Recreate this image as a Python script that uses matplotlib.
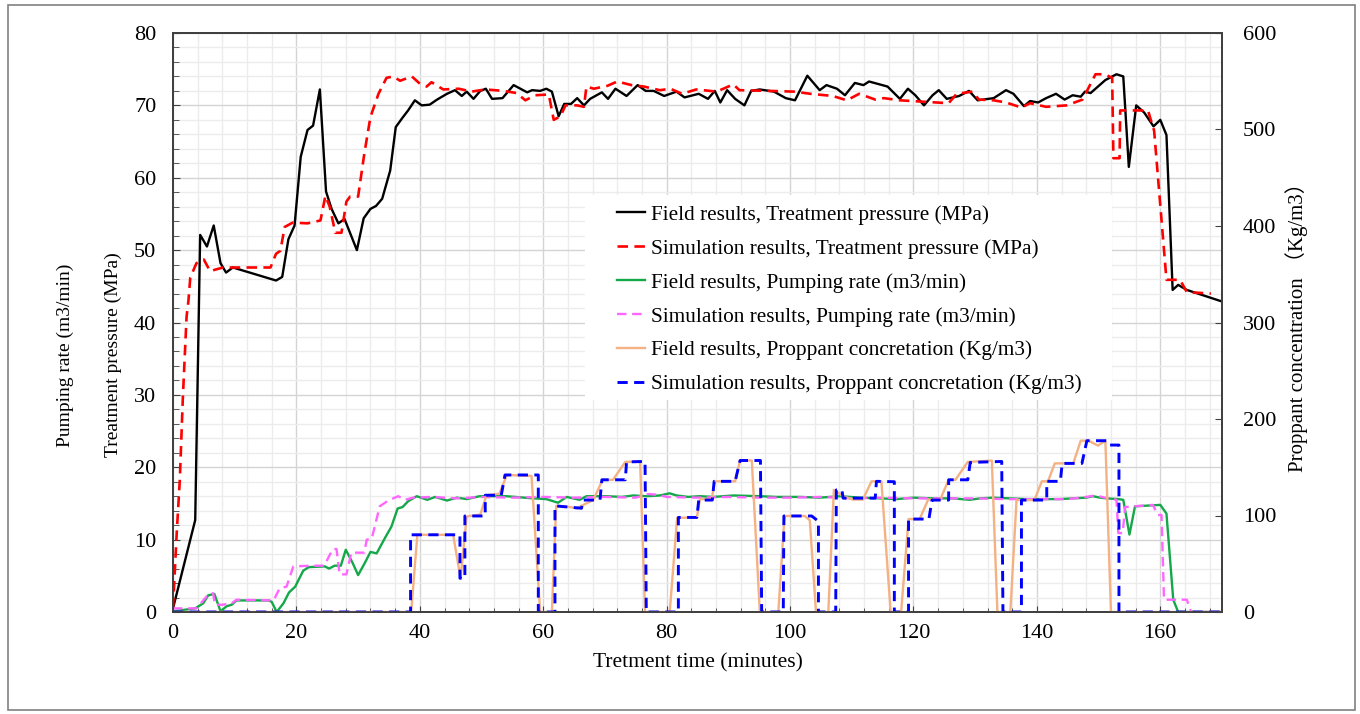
import matplotlib
matplotlib.use("Agg")
import matplotlib.pyplot as plt
from matplotlib.patches import Rectangle
from matplotlib.ticker import MultipleLocator

plt.rcParams['font.family'] = ['Liberation Serif', 'Noto Sans CJK SC']

# treatment pressure, field (MPa)
t_press_field = [0, 3.6, 4.4, 5.5, 6.6, 7.7, 8.6, 9.7, 16.7, 17.7,
                 18.7, 19.7, 20.7, 21.8, 22.7, 23.8, 24.8, 25.7, 26.8, 27.8,
                 29.8, 30.9, 32.0, 32.9, 33.9, 35.2, 36.1, 37.2, 38.1, 39.2,
                 40.3, 41.6, 42.8, 44.4, 45.7, 46.8, 47.6, 48.7, 49.8, 50.7,
                 51.7, 53.4, 55.2, 57.4, 58.2, 59.5, 60.5, 61.4, 62.5, 63.4,
                 64.5, 65.5, 66.6, 67.6, 69.5, 70.5, 71.7, 73.5, 75.3, 76.6,
                 77.9, 79.6, 81.6, 82.9, 85.2, 86.7, 87.8, 88.7, 89.8, 91.1,
                 92.6, 93.7, 95.1, 97.4, 99.3, 100.8, 102.8, 104.8, 105.9, 107.6,
                 108.9, 110.5, 111.9, 112.8, 115.8, 117.8, 119.1, 120.3, 121.7, 123.1,
                 124.1, 125.4, 127.4, 129.0, 130.4, 133.0, 135.0, 136.2, 137.9, 138.9,
                 140.2, 141.5, 143.1, 144.5, 145.8, 147.1, 147.8, 148.7, 151.1, 152.9,
                 154.0, 154.9, 156.1, 157.4, 158.9, 160.0, 161.0, 162.0, 162.9, 164.3,
                 170]
press_field = [0.5, 12.7, 52.1, 50.5, 53.4, 48.2, 46.9, 47.6, 45.8, 46.3,
               51.5, 53.4, 62.9, 66.6, 67.2, 72.2, 58.1, 55.7, 53.7, 54.3,
               50.0, 54.4, 55.7, 56.1, 57.1, 61.0, 67.0, 68.3, 69.3, 70.7,
               70.0, 70.1, 70.8, 71.6, 72.1, 71.3, 71.9, 70.9, 72.0, 72.3,
               70.9, 71.0, 72.8, 71.8, 72.1, 72.0, 72.3, 71.9, 68.5, 70.2,
               70.2, 71.0, 70.0, 70.9, 71.8, 70.9, 72.3, 71.3, 72.8, 72.0,
               72.0, 71.3, 71.9, 71.1, 71.6, 70.9, 72.0, 70.4, 72.1, 70.9,
               70.0, 72.0, 72.2, 71.9, 71.0, 70.7, 74.1, 72.1, 72.8, 72.3,
               71.4, 73.1, 72.8, 73.3, 72.6, 70.9, 72.3, 71.4, 70.0, 71.4,
               72.1, 70.9, 71.3, 72.0, 70.7, 71.0, 72.1, 71.6, 69.9, 70.6,
               70.4, 71.0, 71.6, 70.8, 71.4, 71.2, 71.9, 71.7, 73.5, 74.3,
               74.0, 61.5, 70.0, 69.0, 67.1, 68.0, 65.9, 44.5, 45.2, 44.5,
               42.9]

# treatment pressure, simulation (MPa)
t_press_sim = [0, 0.6, 1.1, 1.6, 2.2, 2.5, 2.8, 3.8, 5.0, 6.0,
               8.1, 15.8, 16.7, 17.4, 18.1, 19.4, 21.8, 23.9, 24.7, 25.4,
               26.3, 27.3, 28.1, 28.7, 30.0, 31.0, 32.0, 33.3, 34.6, 35.7,
               36.8, 38.7, 40.0, 41.1, 41.9, 43.8, 46.3, 48.4, 50.6, 53.6,
               55.7, 57.1, 58.7, 60.9, 61.7, 62.8, 63.6, 65.5, 66.6, 67.0,
               68.2, 70.4, 72.0, 74.3, 76.3, 78.9, 80.6, 82.5, 84.8, 88.1,
               90.8, 91.8, 96.7, 100.7, 103.3, 106.9, 109.2, 111.2, 113.8, 115.2,
               117.8, 121.7, 125.7, 127.0, 129.6, 130.6, 133.0, 135.0, 137.5, 138.9,
               141.5, 144.8, 147.4, 149.5, 151.0, 152.2, 152.4, 153.4, 153.5, 158.0,
               159.0, 161.0, 163.2, 164.3, 168.2]
press_sim = [0.5, 10.9, 18.2, 29.7, 40.8, 43.0, 46.2, 48.2, 48.7, 47.1,
             47.6, 47.6, 49.5, 49.9, 53.2, 53.8, 53.7, 54.1, 57.5, 56.0,
             52.4, 52.4, 56.7, 57.4, 57.4, 63.3, 68.4, 71.6, 73.8, 74.0,
             73.4, 74.0, 73.0, 72.6, 73.2, 72.2, 72.3, 71.9, 72.2, 72.0,
             71.7, 70.7, 71.4, 71.5, 68.0, 68.5, 70.0, 70.0, 69.8, 72.6,
             72.3, 72.7, 73.3, 72.8, 72.6, 72.1, 72.3, 71.6, 72.2, 71.9,
             72.9, 72.1, 72.0, 71.9, 71.6, 71.3, 70.7, 71.6, 70.8, 71.0,
             70.7, 70.5, 70.3, 71.6, 71.9, 70.8, 70.7, 70.4, 69.7, 70.3,
             69.8, 70.0, 70.8, 74.3, 74.3, 73.8, 62.7, 62.7, 69.3, 69.3,
             66.5, 45.9, 45.9, 44.2, 44.0]

# pumping rate, field (m3/min)
t_rate_field = [0, 3.6, 4.9, 5.7, 6.7, 7.7, 8.7, 9.5, 10.3, 15.5,
                16.0, 16.8, 17.9, 18.8, 19.8, 21.1, 22.0, 24.6, 25.3, 26.2,
                27.2, 28.0, 29.1, 30.0, 31.1, 32.0, 33.0, 34.4, 35.4, 36.4,
                37.2, 38.1, 39.5, 41.2, 42.5, 44.4, 46.0, 47.6, 49.7, 54.0,
                58.4, 60.5, 62.4, 63.8, 65.9, 67.0, 70.3, 72.7, 74.6, 76.7,
                78.9, 80.5, 81.6, 83.5, 85.4, 87.6, 90.8, 95.1, 97.8, 101.6,
                104.8, 108.1, 111.3, 114.6, 117.3, 120.0, 123.2, 126.4, 129.1, 130.8,
                132.9, 138.3, 143.7, 148.0, 149.1, 150.2, 151.3, 153.2, 154.0, 155.0,
                155.9, 160.0, 161.0, 162.1, 162.9, 170]
rate_field = [0.1, 0.5, 1.2, 2.3, 2.5, 0.1, 0.8, 1.0, 1.6, 1.6,
              1.4, 0.0, 1.2, 2.7, 3.5, 5.7, 6.2, 6.3, 6.0, 6.4,
              6.4, 8.6, 6.8, 5.1, 6.8, 8.3, 8.1, 10.3, 11.8, 14.3,
              14.5, 15.3, 16.0, 15.5, 15.9, 15.4, 15.8, 15.6, 16.0, 16.0,
              15.7, 15.6, 15.1, 15.9, 15.5, 16.0, 16.0, 15.9, 16.1, 16.0,
              16.1, 16.4, 16.1, 15.9, 16.0, 15.9, 16.1, 16.0, 15.9, 15.9,
              15.8, 16.0, 15.8, 15.7, 15.6, 15.8, 15.7, 15.7, 15.5, 15.7,
              15.8, 15.6, 15.6, 15.8, 16.0, 15.8, 15.7, 15.6, 15.5, 10.7,
              14.6, 14.8, 13.6, 1.7, 0.0, 0.0]

# pumping rate, simulation (m3/min)
t_rate_sim = [0, 3.8, 5.7, 6.5, 6.8, 8.0, 9.5, 10.3, 16.3, 17.3,
              18.4, 19.5, 22.5, 24.5, 25.9, 26.5, 27.0, 28.1, 28.9, 31.0,
              31.4, 32.2, 33.5, 34.9, 36.5, 37.6, 38.9, 42.0, 46.0, 50.0,
              55.0, 60.0, 65.0, 70.0, 75.0, 77.0, 78.5, 80.0, 85.0, 90.0,
              95.0, 100.0, 105.0, 110.0, 115.0, 120.0, 125.0, 130.0, 135.0, 140.0,
              145.0, 148.0, 149.5, 151.0, 152.9, 153.2, 153.9, 154.3, 158.8, 159.6,
              160.2, 160.6, 164.3, 165.0, 170]
rate_sim = [0.5, 0.5, 2.4, 2.6, 1.0, 1.0, 1.2, 1.7, 1.6, 3.3,
            3.5, 6.3, 6.4, 6.4, 8.7, 8.7, 5.2, 5.2, 8.2, 8.2,
            10.0, 10.1, 14.6, 15.4, 16.0, 15.5, 15.8, 15.9, 15.7, 15.9,
            15.8, 15.9, 15.8, 15.9, 15.8, 16.3, 16.2, 15.9, 15.8, 15.9,
            15.8, 15.8, 15.9, 15.7, 15.8, 15.7, 15.7, 15.7, 15.6, 15.6,
            15.6, 15.9, 16.1, 15.8, 15.5, 10.9, 10.9, 14.5, 14.8, 13.4,
            13.4, 1.7, 1.7, 0.0, 0.0]

# proppant concentration, field (Kg/m3)
t_prop_field = [0, 38.6, 39.6, 45.4, 46.6, 47.6, 49.8, 50.8, 52.9, 54.1,
                58.1, 59.5, 61.4, 62.1, 64.1, 65.4, 68.1, 69.6, 71.3, 73.3,
                75.7, 76.5, 80.5, 81.7, 84.9, 85.4, 87.3, 87.8, 91.1, 91.9,
                93.8, 95.1, 98.1, 99.1, 102.4, 103.2, 104.2, 106.2, 107.1, 108.6,
                110.2, 111.8, 113.2, 114.8, 116.3, 118.0, 119.2, 121.0, 122.4, 124.3,
                125.7, 126.8, 128.8, 132.7, 133.6, 135.7, 136.7, 139.6, 140.8, 141.8,
                142.9, 145.9, 147.1, 148.4, 149.9, 151.1, 152.0, 170]
prop_field = [0, 0, 80, 80, 35, 99, 101, 121, 122.6, 142,
              141, 0, 0, 110, 109, 107.5, 116, 136.8, 137, 155.5,
              156, 0, 0, 97.6, 98, 117, 117, 135.4, 135.4, 157,
              157, 0, 0, 99.5, 99.5, 95, 0, 0, 126.5, 120,
              116.5, 116.5, 135.4, 135.4, 0, 0, 96.3, 96.3, 116.7, 116,
              137, 137, 155.5, 156.9, 0, 0, 116, 116, 135.4, 135.4,
              154, 154, 177.5, 177.5, 172.4, 177.5, 0, 0]

# proppant concentration, simulation (Kg/m3)
t_prop_sim = [0, 38.5, 38.5, 46.5, 46.5, 47.3, 47.3, 50.6, 50.6, 53.2,
              53.8, 59.2, 59.2, 61.9, 61.9, 66.2, 66.5, 69.2, 69.5, 73.3,
              73.5, 76.5, 76.7, 81.9, 81.9, 84.9, 85.2, 87.4, 87.7, 91.1,
              91.9, 95.2, 95.4, 98.9, 99.0, 103.5, 104.6, 104.6, 107.4, 107.5,
              108.4, 108.6, 113.8, 114.0, 116.9, 116.9, 119.2, 119.2, 122.5, 123.0,
              125.7, 125.7, 128.8, 129.2, 134.3, 134.5, 137.5, 137.5, 141.6, 141.6,
              143.8, 144.1, 147.3, 148.1, 151.3, 151.7, 153.3, 153.3, 170]
prop_sim = [0, 0, 80, 80, 35, 35, 99.5, 99.5, 121, 121,
            142, 142, 0, 0, 110, 107.5, 116, 116, 137, 137,
            155.5, 156, 0, 0, 98, 98, 116, 116, 135.4, 135.4,
            157, 157, 0, 0, 99.5, 99.5, 94, 0, 0, 126.5,
            126.5, 118, 118, 135.4, 135, 0, 0, 96.3, 96.3, 116,
            116, 137, 137, 155, 156, 0, 0, 116, 116, 135.4,
            135.4, 154, 154, 177.5, 177.5, 173, 173, 0, 0]

labels = ['Field results, Treatment pressure (MPa)',
          'Simulation results, Treatment pressure (MPa)',
          'Field results, Pumping rate (m3/min)',
          'Simulation results, Pumping rate (m3/min)',
          'Field results, Proppant concretation (Kg/m3)',
          'Simulation results, Proppant concretation (Kg/m3)']

fig = plt.figure(figsize=(13.6, 7.14), dpi=100)
ax = fig.add_axes([173 / 1360, 1 - 612 / 714, 1049 / 1360, 579 / 714])
ax2 = ax.twinx()

h1, = ax.plot(t_press_field, press_field, color='black', lw=1.7, label=labels[0])
h2, = ax.plot(t_press_sim, press_sim, color='#ff0000', lw=1.9, dashes=(4, 2.4), label=labels[1])
h3, = ax.plot(t_rate_field, rate_field, color='#14a84a', lw=1.7, label=labels[2])
h4, = ax.plot(t_rate_sim, rate_sim, color='#ff66ff', lw=1.7, dashes=(4, 2.4), label=labels[3])
h5, = ax2.plot(t_prop_field, prop_field, color='#f4b183', lw=1.7, label=labels[4])
h6, = ax2.plot(t_prop_sim, prop_sim, color='#0000ff', lw=2.1, dashes=(3.5, 2.2), label=labels[5])

ax.set_xlim(0, 170)
ax.set_ylim(0, 80)
ax2.set_ylim(0, 600)

ax.xaxis.set_major_locator(MultipleLocator(20))
ax.xaxis.set_minor_locator(MultipleLocator(4))
ax.yaxis.set_major_locator(MultipleLocator(10))
ax.yaxis.set_minor_locator(MultipleLocator(2))
ax2.yaxis.set_major_locator(MultipleLocator(100))

ax.grid(which='major', color='#d4d4d4', lw=1.0)
ax.grid(which='minor', color='#ececec', lw=1.0)
ax.set_axisbelow(True)

for a in (ax, ax2):
    for s in a.spines.values():
        s.set_color('#404040')
        s.set_linewidth(1.3)

ax.tick_params(axis='x', which='both', direction='in', top=False, labelsize=16,
               pad=9, color='#404040')
ax.tick_params(axis='x', which='major', length=4)
ax.tick_params(axis='x', which='minor', length=3)
ax.tick_params(axis='y', which='both', direction='in', right=False, labelsize=16,
               pad=12, color='#404040')
ax.tick_params(axis='y', which='major', length=5)
ax.tick_params(axis='y', which='minor', length=4)
ax2.tick_params(axis='y', which='major', direction='in', length=5, labelsize=16,
                pad=15, color='#404040')

# white panel behind the legend
ax2.add_patch(Rectangle((0.393, 0.366), 0.502, 0.354, transform=ax2.transAxes,
                        facecolor='white', edgecolor='none', zorder=3))
leg = ax2.legend(handles=[h1, h2, h3, h4, h5, h6], loc='upper left',
                 bbox_to_anchor=(0.4233, 0.703), frameon=False, fontsize=15.3,
                 handlelength=1.32, handletextpad=0.28, labelspacing=0.66,
                 borderpad=0, borderaxespad=0)
leg.set_zorder(5)

fig.text(698 / 1360, 1 - 663 / 714, 'Tretment time (minutes)', ha='center', va='center',
         fontsize=15.5)
fig.text(65 / 1360, 1 - 355 / 714, 'Pumping rate (m3/min)', rotation=90,
         ha='center', va='center', fontsize=14)
fig.text(113 / 1360, 1 - 355 / 714, 'Treatment pressure (MPa)', rotation=90,
         ha='center', va='center', fontsize=14)
fig.text(1297 / 1360, 1 - 322 / 714, 'Proppant concentration （Kg/m3）', rotation=90,
         ha='center', va='center', fontsize=15)

# thin frame around the whole figure
fig.patches.append(Rectangle((8 / 1360, 4 / 714), 1347 / 1360, 705 / 714,
                             transform=fig.transFigure, fill=False,
                             edgecolor='#808080', lw=1.2))

fig.savefig('out.png', dpi=100)
